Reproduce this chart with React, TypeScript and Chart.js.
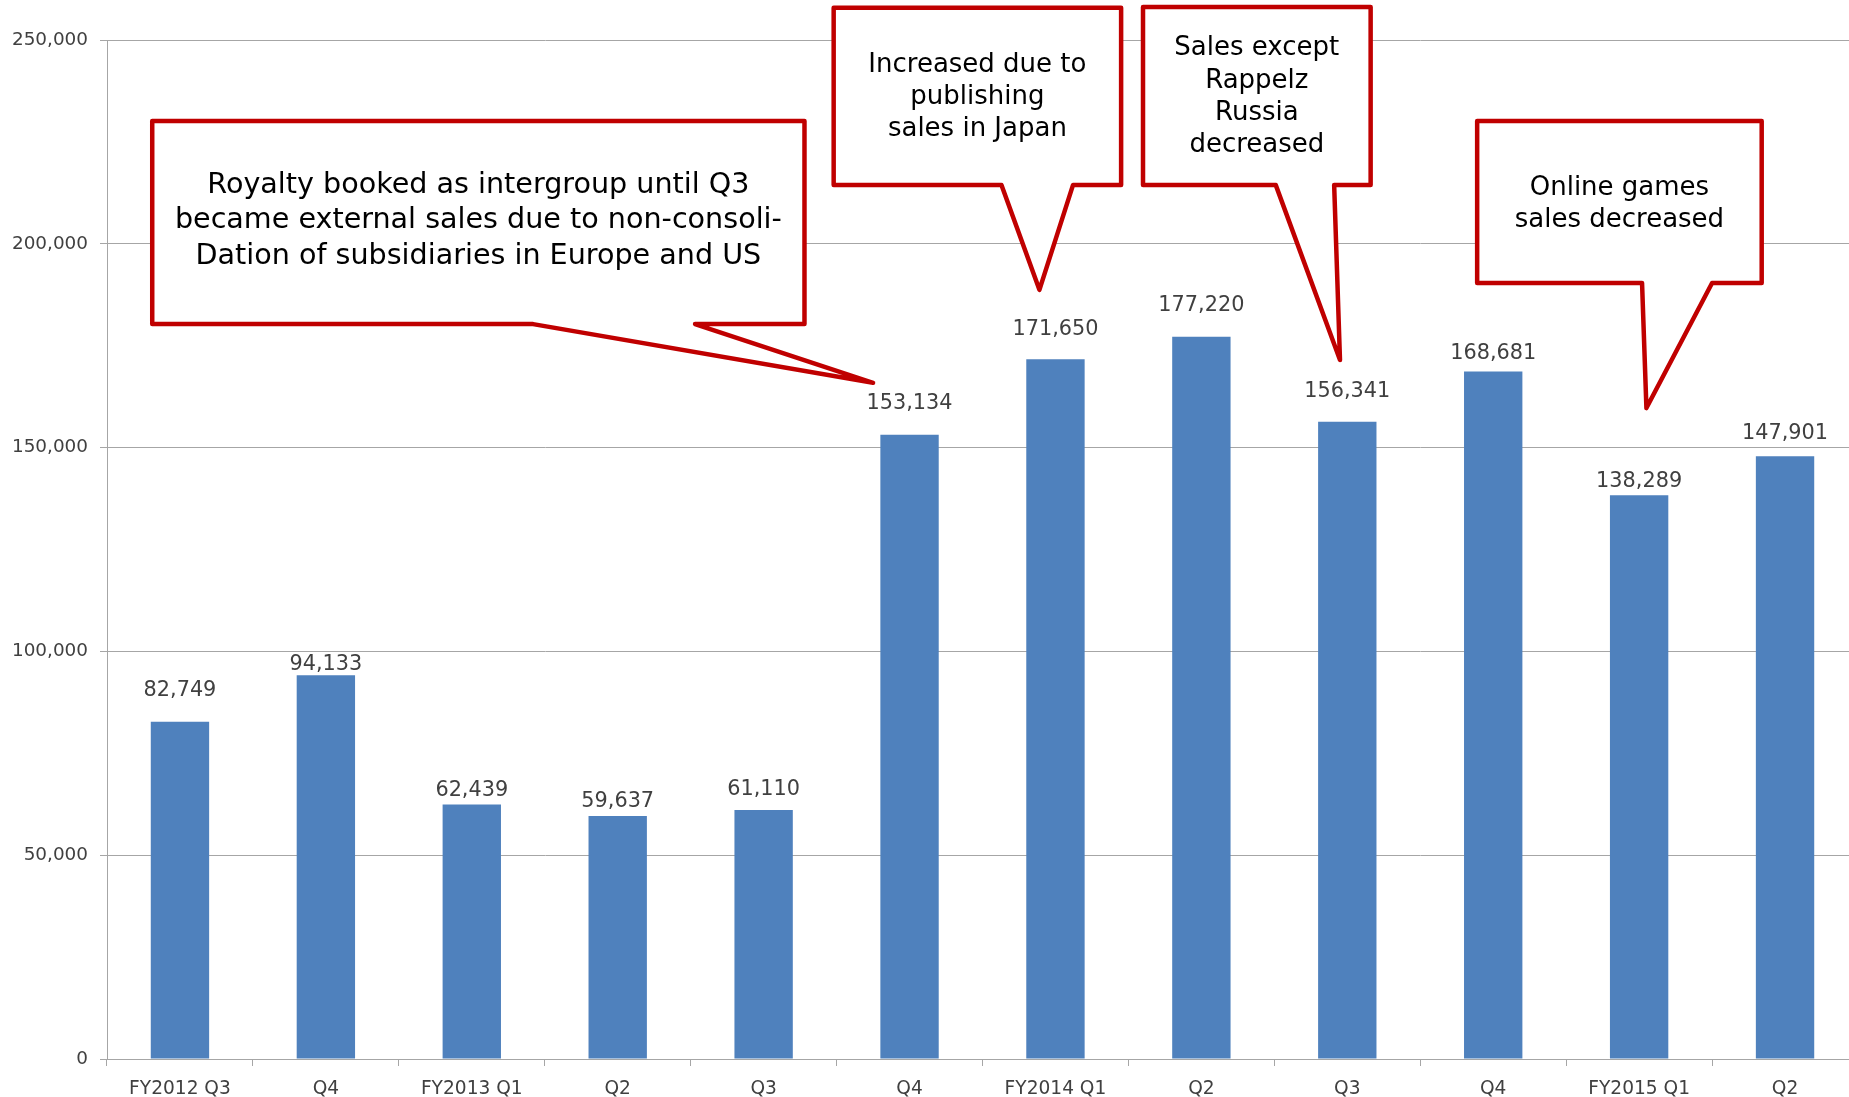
import { useEffect, useRef } from 'react';
import { Chart, registerables } from 'chart.js';

Chart.register(...registerables);

const categories = ['FY2012 Q3', 'Q4', 'FY2013 Q1', 'Q2', 'Q3', 'Q4', 'FY2014 Q1', 'Q2', 'Q3', 'Q4', 'FY2015 Q1', 'Q2'];
const salesValues = [82749, 94133, 62439, 59637, 61110, 153134, 171650, 177220, 156341, 168681, 138289, 147901];
const yMin = 0;
const yMax = 250000;
const yStep = 50000;

// per-label lift of the value label above its bar top (px), as placed in the original
const labelLiftPx = [31, 11, 14, 14, 20, 31, 30, 31, 30, 18, 14, 23];

// callouts: text lines, box (category units / values), pointer base and tip
const calloutTexts = [
  ['Royalty booked as intergroup until Q3', 'became external sales due to non-consoli-', 'Dation of subsidiaries in Europe and US'],
  ['Increased due to', 'publishing', 'sales in Japan'],
  ['Sales except', 'Rappelz', 'Russia', 'decreased'],
  ['Online games', 'sales decreased'],
];
const calloutBoxX = [[-0.19, 4.28], [4.48, 6.45], [6.6, 8.16], [8.89, 10.84]];
const calloutBoxY = [[230100, 180300], [257900, 214400], [258100, 214400], [230100, 190400]];
const calloutBaseX = [[2.42, 3.53], [5.63, 6.12], [7.51, 7.91], [10.02, 10.5]];
const calloutTipX = [4.75, 5.89, 7.95, 10.05];
const calloutTipY = [165900, 188700, 171500, 159700];
const calloutFontPx = [28.6, 26, 26, 26];
const calloutTextShiftPx = [-2, 1, 1, 2];

const FONT = '"DejaVu Sans", Verdana, sans-serif';
const AXIS_GRAY = '#a6a6a6';
const TEXT_GRAY = '#404040';

const valueLabelPlugin = {
  id: 'valueLabels',
  afterDatasetsDraw(chart: any) {
    const ctx = chart.ctx;
    const meta = chart.getDatasetMeta(0);
    ctx.save();
    ctx.font = `20.8px ${FONT}`;
    ctx.fillStyle = TEXT_GRAY;
    ctx.textAlign = 'center';
    ctx.textBaseline = 'middle';
    meta.data.forEach((bar: any, i: number) => {
      const txt = salesValues[i].toLocaleString('en-US');
      ctx.fillText(txt, bar.x, bar.y - labelLiftPx[i]);
    });
    ctx.restore();
  },
};

const calloutPlugin = {
  id: 'callouts',
  afterDraw(chart: any) {
    const ctx = chart.ctx;
    const xs = chart.scales.x;
    const ys = chart.scales.y;
    ctx.save();
    calloutTexts.forEach((lines, i) => {
      const l = xs.getPixelForValue(calloutBoxX[i][0]);
      const r = xs.getPixelForValue(calloutBoxX[i][1]);
      const t = ys.getPixelForValue(calloutBoxY[i][0]);
      const b = ys.getPixelForValue(calloutBoxY[i][1]);
      const b1 = xs.getPixelForValue(calloutBaseX[i][0]);
      const b2 = xs.getPixelForValue(calloutBaseX[i][1]);
      const tx = xs.getPixelForValue(calloutTipX[i]);
      const ty = ys.getPixelForValue(calloutTipY[i]);
      ctx.beginPath();
      ctx.moveTo(l, t);
      ctx.lineTo(r, t);
      ctx.lineTo(r, b);
      ctx.lineTo(b2, b);
      ctx.lineTo(tx, ty);
      ctx.lineTo(b1, b);
      ctx.lineTo(l, b);
      ctx.closePath();
      ctx.fillStyle = '#ffffff';
      ctx.fill();
      ctx.lineWidth = 4.5;
      ctx.lineJoin = 'round';
      ctx.strokeStyle = '#c00000';
      ctx.stroke();

      const fs = calloutFontPx[i];
      const lh = fs * 1.24;
      ctx.font = `${fs}px ${FONT}`;
      ctx.fillStyle = '#000000';
      ctx.textAlign = 'center';
      ctx.textBaseline = 'middle';
      const cx = (l + r) / 2;
      const cy = (t + b) / 2 + calloutTextShiftPx[i];
      lines.forEach((line, k) => {
        ctx.fillText(line, cx, cy + (k - (lines.length - 1) / 2) * lh);
      });
    });
    ctx.restore();
  },
};

export default function App() {
  const ref = useRef<HTMLCanvasElement | null>(null);

  useEffect(() => {
    if (!ref.current) return;
    const chart = new Chart(ref.current, {
      type: 'bar',
      data: {
        labels: categories,
        datasets: [
          {
            data: salesValues,
            backgroundColor: '#4f81bd',
            borderWidth: 0,
            barPercentage: 0.4,
            categoryPercentage: 1.0,
          },
        ],
      },
      options: {
        responsive: false,
        animation: false,
        devicePixelRatio: 1,
        layout: { padding: { top: 40, right: 22, bottom: 0, left: 0 } },
        plugins: {
          legend: { display: false },
          tooltip: { enabled: false },
          title: { display: false },
        },
        scales: {
          x: {
            grid: {
              display: true,
              drawOnChartArea: false,
              drawTicks: true,
              tickLength: 7,
              color: AXIS_GRAY,
              offset: true,
            },
            border: { color: AXIS_GRAY, width: 1 },
            ticks: {
              color: TEXT_GRAY,
              font: { family: FONT, size: 18.6 },
              padding: 12,
              maxRotation: 0,
              autoSkip: false,
            },
            afterFit: (s: any) => {
              s.height = 38;
            },
          },
          y: {
            min: yMin,
            max: yMax,
            ticks: {
              stepSize: yStep,
              color: TEXT_GRAY,
              font: { family: FONT, size: 18.4 },
              padding: 12,
              callback: (v: any) => Number(v).toLocaleString('en-US'),
            },
            grid: { color: AXIS_GRAY, tickLength: 7 },
            border: { color: AXIS_GRAY, width: 1 },
            afterFit: (s: any) => {
              s.width = 107;
            },
          },
        },
      },
      plugins: [valueLabelPlugin, calloutPlugin],
    });
    return () => chart.destroy();
  }, []);

  return (
    <div
      style={{
        position: 'fixed',
        left: 0,
        top: 0,
        width: '1849px',
        height: '1097px',
        overflow: 'hidden',
        background: '#ffffff',
      }}
    >
      <canvas ref={ref} width={1880} height={1097} style={{ display: 'block', width: '1880px', height: '1097px' }} />
    </div>
  );
}
